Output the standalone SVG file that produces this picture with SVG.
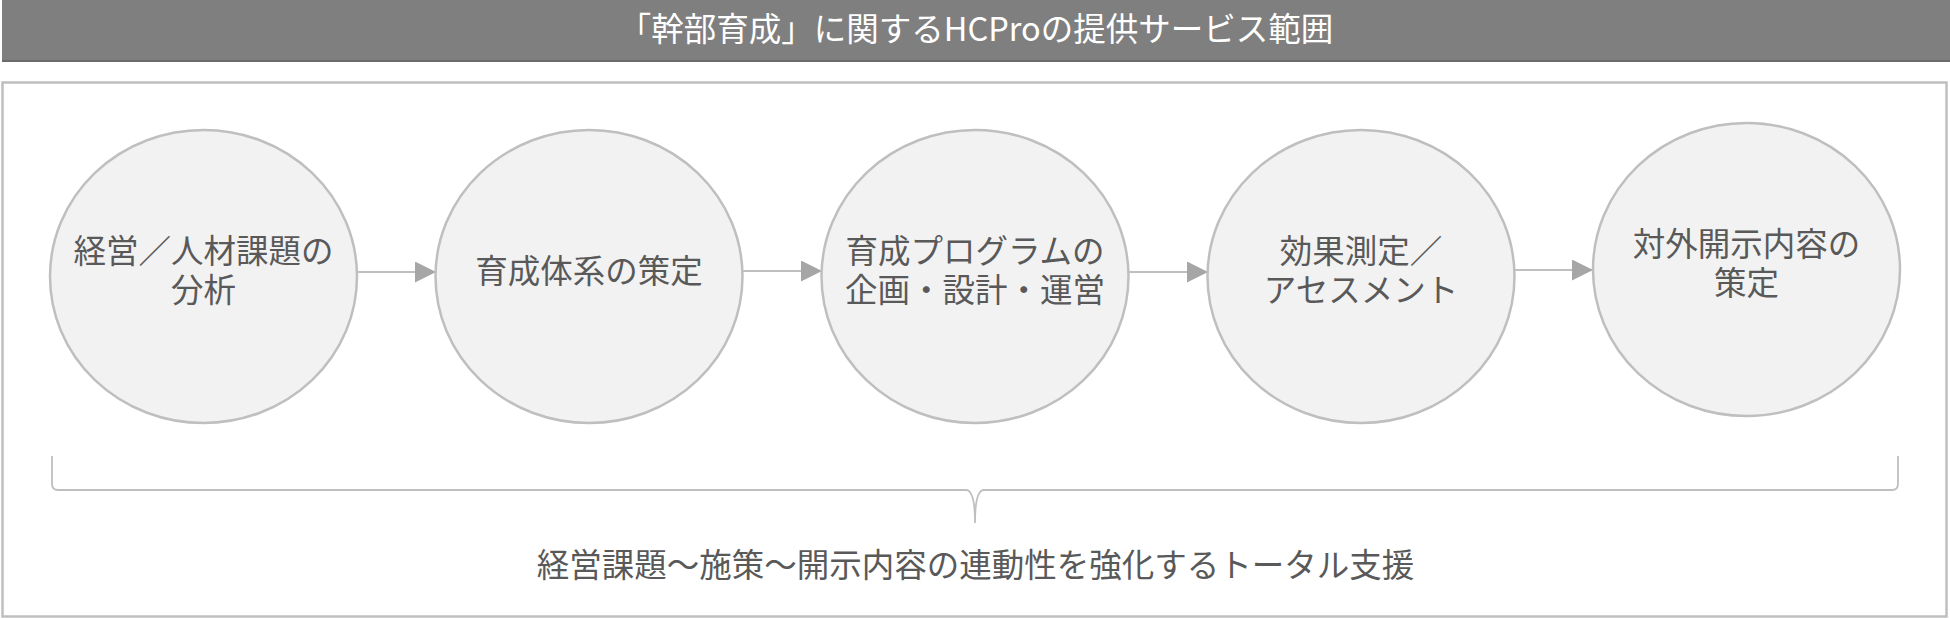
<svg xmlns="http://www.w3.org/2000/svg" width="1950" height="619" viewBox="0 0 1950 619">
<defs>
<style>
.node ellipse{fill:#f2f2f2;stroke:#bfbfbf;stroke-width:2.5}
.lbl{font-family:"Noto Sans CJK JP","Noto Sans",sans-serif;font-size:32.5px;fill:#595959;text-anchor:middle}
.title{font-family:"Noto Sans CJK JP","Noto Sans",sans-serif;font-size:32.5px;fill:#ffffff;text-anchor:middle}
.conn line{stroke:#bfbfbf;stroke-width:2}
</style>
<marker id="ah" markerWidth="21" markerHeight="21" refX="21" refY="10.5" orient="auto" markerUnits="userSpaceOnUse">
<path d="M0,0 L21,10.5 L0,21 Z" fill="#a6a6a6"/>
</marker>
</defs>
<rect width="1950" height="619" fill="#ffffff"/>
<g id="header">
<rect x="2" y="0" width="1948" height="61" fill="#7f7f7f"/>
<line x1="2" y1="61" x2="1950" y2="61" stroke="#6b6b6b" stroke-width="2"/>
<text class="title" x="976" y="41">「幹部育成」に関するHCProの提供サービス範囲</text>
</g>
<rect id="frame" x="2.5" y="82.5" width="1944" height="534" fill="none" stroke="#bfbfbf" stroke-width="2.5"/>
<g id="connectors" class="conn">
<line x1="357" y1="272" x2="436" y2="272" marker-end="url(#ah)"/>
<line x1="742" y1="271" x2="822" y2="271" marker-end="url(#ah)"/>
<line x1="1128" y1="272" x2="1208" y2="272" marker-end="url(#ah)"/>
<line x1="1514" y1="270" x2="1593" y2="270" marker-end="url(#ah)"/>
</g>
<g id="n1" class="node">
<ellipse cx="203.5" cy="276.5" rx="153.5" ry="146.5"/>
<text class="lbl"><tspan x="203.5" y="263">経営／人材課題の</tspan><tspan x="203.5" y="302">分析</tspan></text>
</g>
<g id="n2" class="node">
<ellipse cx="589" cy="276.5" rx="153.5" ry="146.5"/>
<text class="lbl" x="589" y="283">育成体系の策定</text>
</g>
<g id="n3" class="node">
<ellipse cx="975" cy="276.5" rx="153.5" ry="146.5"/>
<text class="lbl"><tspan x="975" y="263">育成プログラムの</tspan><tspan x="975" y="302">企画・設計・運営</tspan></text>
</g>
<g id="n4" class="node">
<ellipse cx="1361" cy="276.5" rx="153.5" ry="146.5"/>
<text class="lbl"><tspan x="1361" y="263">効果測定／</tspan><tspan x="1361" y="302">アセスメント</tspan></text>
</g>
<g id="n5" class="node">
<ellipse cx="1746.5" cy="269.5" rx="153.5" ry="146.5"/>
<text class="lbl"><tspan x="1746.5" y="256">対外開示内容の</tspan><tspan x="1746.5" y="295">策定</tspan></text>
</g>
<g id="brace">
<path d="M52,456 L52,484 Q52,490 58,490 L966,490 Q975,490 975,523 Q975,490 984,490 L1892,490 Q1898,490 1898,484 L1898,456" fill="none" stroke="#bfbfbf" stroke-width="1.8"/>
<text class="lbl" x="975.5" y="577">経営課題～施策～開示内容の連動性を強化するトータル支援</text>
</g>
</svg>
